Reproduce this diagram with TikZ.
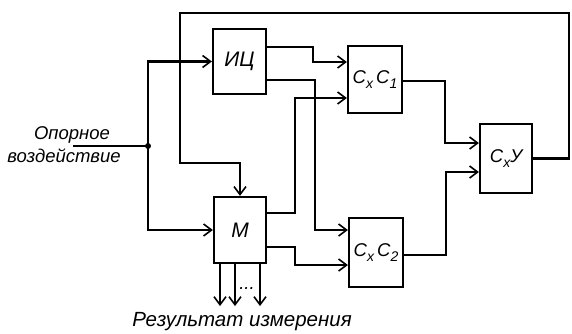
\documentclass[tikz,border=0pt]{standalone}
\usepackage{fontspec}
\setmainfont{Liberation Sans}
\usetikzlibrary{arrows.meta,positioning,calc}
\newcommand{\idx}[1]{\raisebox{-0.45ex}{\fontsize{14}{15}\selectfont #1}}

\begin{document}
\begin{tikzpicture}[x=1pt,y=-1pt,line width=2.2pt,
  font=\fontsize{18.5}{21}\selectfont\itshape,
  blk/.style={draw,line width=2.2pt,inner sep=0pt},
  arr/.style={-{Straight Barb[length=8pt,width=12pt,line width=1.6pt]}}]
\useasboundingbox (0,0) rectangle (572,333);
% blocks
\node[blk,minimum width=53pt,minimum height=65pt] (ic) at (239.5,61.5) {\fontsize{21}{22}\selectfont ИЦ};
\node[blk,minimum width=52pt,minimum height=66pt] (m) at (240,230) {\fontsize{21}{22}\selectfont М};
\node[blk,minimum width=54pt,minimum height=67pt] (c1) at (375,79.5) {C\idx{x}\,C\idx{1}};
\node[blk,minimum width=54pt,minimum height=69pt] (c2) at (376,252.5) {C\idx{x}\,C\idx{2}};
\node[blk,minimum width=52pt,minimum height=69pt] (cy) at (506,158.5) {C\idx{x}У};
% input
\node (in1) at (72,135) {Опорное};
\node (in2) at (64,156) {воздействие};
\coordinate (src) at (73,146);
\coordinate (j) at (148,146);
\draw (src) -- (j);
\fill (j) circle (3pt);
\draw[arr] (j) |- (ic.west);
\draw[arr] (j) |- (m.west);
% feedback
\coordinate (fbR) at (569,13);
\coordinate (fbL) at (180,163);
\draw[arr] (cy.east) -| (fbR) -| (fbL) -| (m.north);
% IC and M to comparators
\draw[arr] (ic.east |- 0,47) -| (313,62) -- (c1.west |- 0,62);
\draw[arr] (ic.east |- 0,80) -| (315,230) -- (c2.west |- 0,230);
\draw[arr] (m.east |- 0,213) -| (295,98) -- (c1.west |- 0,98);
\draw[arr] (m.east |- 0,247) -| (295,265) -- (c2.west |- 0,265);
% comparators to C_x Y
\draw[arr] (c1.east |- 0,81) -| (445,143) -- (cy.west |- 0,143);
\draw[arr] (c2.east |- 0,255) -| (446,172) -- (cy.west |- 0,172);
% results
\foreach \px/\n in {220/1,235/2,260/3} {
  \coordinate (out\n) at (\px,306);
  \draw[arr] (m.south -| out\n) -- (out\n);
}
\node (dots) at (247,289) {...};
\node[font=\fontsize{20.5}{22}\selectfont\itshape] (res) at (242,322) {Результат измерения};
\end{tikzpicture}
\end{document}
